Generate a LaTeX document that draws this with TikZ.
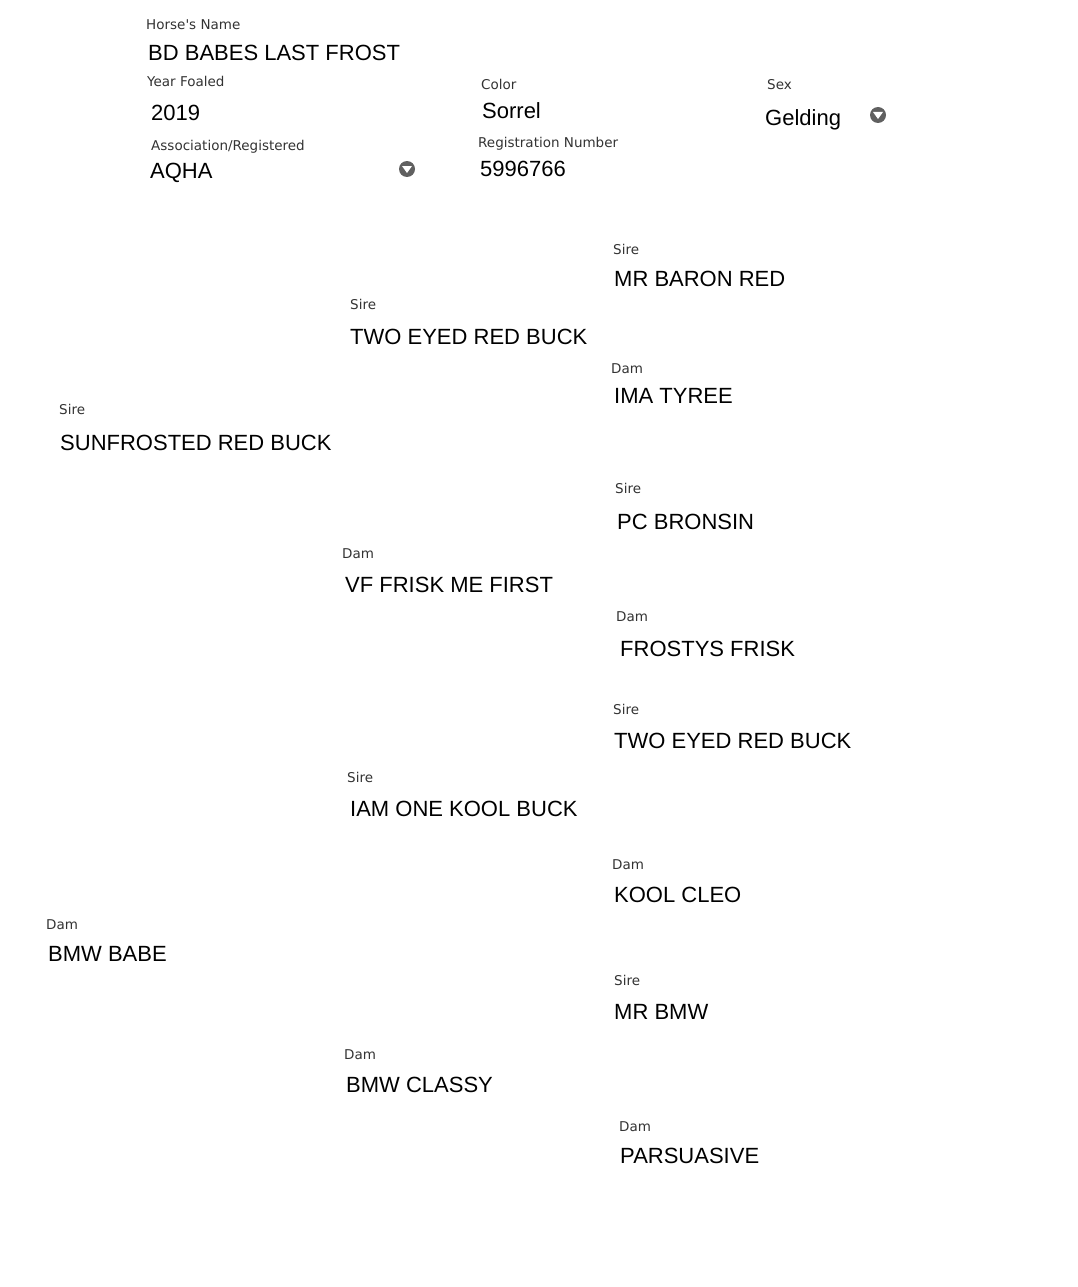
\documentclass[tikz,border=0pt]{standalone}
\usepackage{fontspec}
\setmainfont{Liberation Sans}
\newfontfamily\tagfont{DejaVu Sans}

\newcommand{\dropdown}[2]{%
  \fill[gray!75!black] (#1,#2) circle (8pt);
  \fill[white] (#1-5,#2-3) -- (#1+5,#2-3) -- (#1,#2+4) -- cycle;
}

\begin{document}
\begin{tikzpicture}[x=1pt, y=-1pt,
    lbl/.style={anchor=base west, inner sep=0pt, font=\tagfont\fontsize{13.5}{16}\selectfont, text=black!80},
    val/.style={anchor=base west, inner sep=0pt, font=\fontsize{22}{26}\selectfont}]
    \useasboundingbox (0,0) rectangle (1078,1287);

    % horse details
    \node[lbl] (namelbl) at (146,30) {Horse's Name};
    \node[val] (name) at (148,61) {BD BABES LAST FROST};
    \node[lbl] (yearlbl) at (147,87) {Year Foaled};
    \node[val] (year) at (151,121) {2019};
    \node[lbl] (colorlbl) at (481,90) {Color};
    \node[val] (color) at (482,119) {Sorrel};
    \node[lbl] (sexlbl) at (767,90) {Sex};
    \node[val] (sex) at (765,126) {Gelding};
    \dropdown{878}{115}
    \node[lbl] (assoclbl) at (151,150) {Association/Registered};
    \node[val] (assoc) at (150,178) {AQHA};
    \dropdown{407}{169}
    \node[lbl] (reglbl) at (478,147) {Registration Number};
    \node[val] (reg) at (480,176) {5996766};

    % sire side
    \node[lbl] (ssslbl) at (613,254) {Sire};
    \node[val] (sss) at (614,286) {MR BARON RED};
    \node[lbl] (sslbl) at (350,309) {Sire};
    \node[val] (ss) at (350,344) {TWO EYED RED BUCK};
    \node[lbl] (ssdlbl) at (611,373) {Dam};
    \node[val] (ssd) at (614,403) {IMA TYREE};
    \node[lbl] (slbl) at (59,414) {Sire};
    \node[val] (s) at (60,450) {SUNFROSTED RED BUCK};
    \node[lbl] (sdslbl) at (615,493) {Sire};
    \node[val] (sds) at (617,529) {PC BRONSIN};
    \node[lbl] (sdlbl) at (342,558) {Dam};
    \node[val] (sd) at (345,592) {VF FRISK ME FIRST};
    \node[lbl] (sddlbl) at (616,621) {Dam};
    \node[val] (sdd) at (620,656) {FROSTYS FRISK};

    % dam side
    \node[lbl] (dsslbl) at (613,714) {Sire};
    \node[val] (dss) at (614,748) {TWO EYED RED BUCK};
    \node[lbl] (dslbl) at (347,782) {Sire};
    \node[val] (ds) at (350,816) {IAM ONE KOOL BUCK};
    \node[lbl] (dsdlbl) at (612,869) {Dam};
    \node[val] (dsd) at (614,902) {KOOL CLEO};
    \node[lbl] (dlbl) at (46,929) {Dam};
    \node[val] (d) at (48,961) {BMW BABE};
    \node[lbl] (ddslbl) at (614,985) {Sire};
    \node[val] (dds) at (614,1019) {MR BMW};
    \node[lbl] (ddlbl) at (344,1059) {Dam};
    \node[val] (dd) at (346,1092) {BMW CLASSY};
    \node[lbl] (dddlbl) at (619,1131) {Dam};
    \node[val] (ddd) at (620,1163) {PARSUASIVE};
\end{tikzpicture}
\end{document}
